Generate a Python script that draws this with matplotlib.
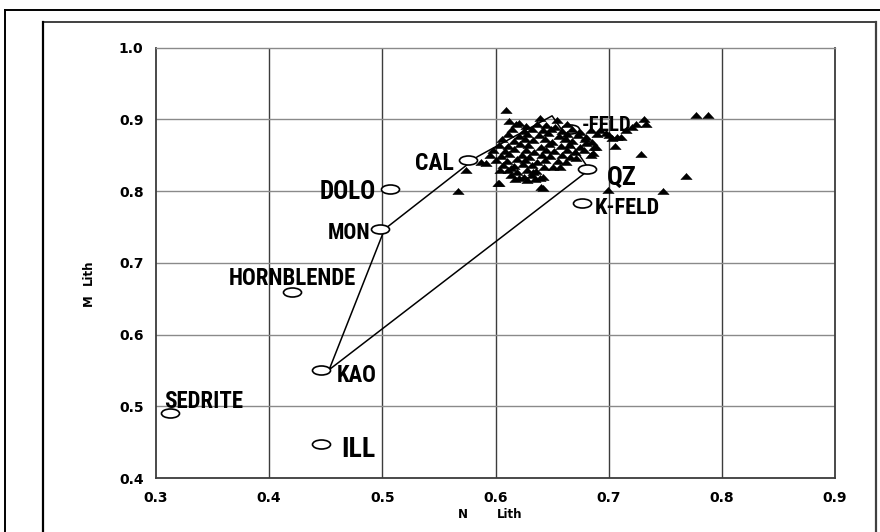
import matplotlib
matplotlib.use("Agg")
import matplotlib.pyplot as plt
from matplotlib import font_manager
from matplotlib.font_manager import FontProperties
from matplotlib.path import Path
from matplotlib.transforms import Affine2D
from matplotlib.lines import Line2D

# --- sample points (triangles) ---
tri_n = [0.609, 0.612, 0.621, 0.639, 0.654, 0.731, 0.733, 0.777, 0.788, 0.768,
         0.729, 0.748, 0.700, 0.706, 0.699, 0.687, 0.684, 0.651, 0.642, 0.640,
         0.721, 0.707, 0.711, 0.567, 0.574, 0.603, 0.642, 0.587, 0.592, 0.604,
         0.602, 0.614, 0.621, 0.639, 0.633, 0.657, 0.671, 0.686, 0.689, 0.680,
         0.703, 0.698, 0.692, 0.715, 0.724,
         0.618, 0.627, 0.637, 0.645, 0.653, 0.663,
         0.615, 0.625, 0.632, 0.642, 0.649, 0.659, 0.668, 0.675, 0.684,
         0.611, 0.621, 0.628, 0.638, 0.646, 0.656, 0.663, 0.673, 0.680, 0.690,
         0.606, 0.616, 0.626, 0.633, 0.644, 0.650, 0.661, 0.668, 0.679, 0.685,
         0.603, 0.611, 0.622, 0.629, 0.640, 0.647, 0.658, 0.665, 0.675,
         0.598, 0.608, 0.616, 0.627, 0.634, 0.645, 0.652, 0.663, 0.670, 0.678,
         0.595, 0.605, 0.612, 0.623, 0.630, 0.641, 0.648, 0.659, 0.666,
         0.600, 0.610, 0.619, 0.626, 0.637, 0.644, 0.655, 0.662,
         0.607, 0.616, 0.624, 0.632, 0.643,
         0.611, 0.619, 0.628, 0.636,
         0.614, 0.625, 0.632,
         0.617, 0.628, 0.635]
tri_m = [0.913, 0.898, 0.895, 0.902, 0.899, 0.900, 0.894, 0.906, 0.906, 0.821,
         0.852, 0.800, 0.878, 0.863, 0.801, 0.861, 0.850, 0.834, 0.820, 0.806,
         0.890, 0.875, 0.875, 0.800, 0.829, 0.811, 0.804, 0.841, 0.839, 0.829,
         0.812, 0.832, 0.818, 0.818, 0.827, 0.834, 0.846, 0.853, 0.862, 0.867,
         0.874, 0.881, 0.885, 0.885, 0.894,
         0.893, 0.891, 0.894, 0.892, 0.890, 0.893,
         0.886, 0.884, 0.887, 0.885, 0.887, 0.884, 0.886, 0.883, 0.885,
         0.879, 0.877, 0.880, 0.878, 0.881, 0.877, 0.879, 0.878, 0.876, 0.879,
         0.872, 0.870, 0.873, 0.871, 0.873, 0.869, 0.872, 0.870, 0.872, 0.869,
         0.865, 0.863, 0.866, 0.864, 0.862, 0.866, 0.863, 0.865, 0.862,
         0.858, 0.856, 0.859, 0.857, 0.855, 0.858, 0.856, 0.857, 0.855, 0.858,
         0.851, 0.849, 0.852, 0.850, 0.848, 0.851, 0.849, 0.850, 0.848,
         0.844, 0.842, 0.845, 0.843, 0.841, 0.844, 0.842, 0.840,
         0.837, 0.835, 0.838, 0.836, 0.834,
         0.829, 0.826, 0.830, 0.828,
         0.822, 0.820, 0.823,
         0.817, 0.815, 0.817]

# --- mineral end-members (open ellipses) ---
min_names = ["SEDRITE", "ILL", "HORNBLENDE", "KAO", "MON", "DOLO", "CAL", "QZ", "K-FELD", "-FELD"]
min_n = [0.312, 0.446, 0.420, 0.446, 0.498, 0.507, 0.576, 0.681, 0.676, 0.666]
min_m = [0.490, 0.447, 0.660, 0.550, 0.747, 0.803, 0.844, 0.831, 0.784, 0.887]

# label anchor points
lab_n = [0.307, 0.464, 0.364, 0.4595, 0.489, 0.494, 0.563, 0.698, 0.688, 0.676]
lab_m = [0.4975, 0.429, 0.669, 0.534, 0.733, 0.789, 0.829, 0.8085, 0.768, 0.884]
lab_ha = ["left", "left", "left", "left", "right", "right", "right", "left", "left", "left"]
lab_size = [16.5, 20, 16.5, 16.5, 15.5, 18, 17, 19, 16, 15]

# --- mixing polygon ---
poly_n = [0.453, 0.502, 0.584, 0.650, 0.683, 0.453]
poly_m = [0.551, 0.747, 0.848, 0.905, 0.830, 0.551]

x_ticks = [0.3, 0.4, 0.5, 0.6, 0.7, 0.8, 0.9]
y_ticks = [0.4, 0.5, 0.6, 0.7, 0.8, 0.9, 1.0]


def _is_bold(entry):
    w = entry.weight
    if isinstance(w, str):
        return "bold" in w.lower() or w.lower() in ("heavy", "black")
    return w >= 600


def pick_label_font():
    """Prefer a narrow/condensed bold sans face for the point labels."""
    cands = []
    for e in font_manager.fontManager.ttflist:
        nm = e.name.lower()
        fn = e.fname.lower()
        narrow = ("narrow" in nm or "condensed" in nm or "narrow" in fn
                  or "condensed" in fn or str(e.stretch) in
                  ("condensed", "semi-condensed", "extra-condensed", "ultra-condensed"))
        if narrow and _is_bold(e) and e.style == "normal" and "mono" not in nm and "serif" not in nm.replace("sans", ""):
            cands.append(e)
    order = ["liberation sans narrow", "arial narrow", "roboto condensed",
             "open sans condensed", "noto sans", "dejavu sans"]
    cands.sort(key=lambda e: next((i for i, o in enumerate(order) if o in e.name.lower()), 99))
    if cands:
        return FontProperties(fname=cands[0].fname, weight="bold"), 1.0
    return FontProperties(family="Liberation Sans", weight="bold"), 0.82


label_fp, label_scale = pick_label_font()

fig = plt.figure(figsize=(8.8, 5.32), dpi=100)
ax = fig.add_axes([156 / 880, 1 - 478 / 532, (835 - 156) / 880, (478 - 47.7) / 532])

ax.set_xlim(0.3, 0.9)
ax.set_ylim(0.4, 1.0)
ax.set_xticks(x_ticks)
ax.set_yticks(y_ticks)
ax.set_xticklabels([f"{v:.1f}" for v in x_ticks])
ax.set_yticklabels([f"{v:.1f}" for v in y_ticks])
ax.tick_params(length=0, pad=9, labelsize=10)
for lab in ax.get_xticklabels() + ax.get_yticklabels():
    lab.set_fontweight("bold")
    lab.set_family("DejaVu Sans")

# grid
for v in x_ticks[1:-1]:
    ax.axvline(v, color="#3c3c3c", lw=1.0, zorder=1)
for v in y_ticks[1:-1]:
    ax.axhline(v, color="#8a8a8a", lw=1.0, zorder=1)
for side in ["left", "bottom", "right"]:
    ax.spines[side].set_color("#3c3c3c")
    ax.spines[side].set_linewidth(1.3)
ax.spines["top"].set_color("#8a8a8a")
ax.spines["top"].set_linewidth(1.0)

# polygon
ax.plot(poly_n, poly_m, color="black", lw=1.1, zorder=2)

# ellipse marker
ell = Path.unit_circle().transformed(Affine2D().scale(1.0, 0.5))
ax.plot(min_n, min_m, linestyle="none", marker=ell, markersize=13,
        markerfacecolor="white", markeredgecolor="black", markeredgewidth=1.2, zorder=3)

# triangle marker (flattened)
tri = [(-1.0, -0.55), (1.0, -0.55), (0.0, 0.55), (-1.0, -0.55)]
ax.plot(tri_n, tri_m, linestyle="none", marker=tri, markersize=8.2,
        markerfacecolor="black", markeredgecolor="black", markeredgewidth=0.3, zorder=4)

for name, x, y, ha, s in zip(min_names, lab_n, lab_m, lab_ha, lab_size):
    fp = label_fp.copy()
    fp.set_size(s * label_scale)
    ax.text(x, y, name, ha=ha, va="baseline", fontproperties=fp, zorder=5)

fig.text(458 / 880, 1 - 515 / 532, "N", fontsize=8.5, fontweight="bold",
         ha="left", va="center", family="DejaVu Sans")
fig.text(497 / 880, 1 - 515 / 532, "Lith", fontsize=8.5, fontweight="bold",
         ha="left", va="center", family="DejaVu Sans")
fig.text(88 / 880, 1 - 300 / 532, "M", fontsize=8.5, fontweight="bold",
         ha="center", va="center", rotation=90, family="DejaVu Sans")
fig.text(88 / 880, 1 - 272 / 532, "Lith", fontsize=8.5, fontweight="bold",
         ha="center", va="center", rotation=90, family="DejaVu Sans")


# chart frames
def fline(x0, y0, x1, y1, color, lw):
    fig.add_artist(Line2D([x0 / 880, x1 / 880], [1 - y0 / 532, 1 - y1 / 532],
                          color=color, lw=lw, transform=fig.transFigure))


fline(5, 10, 880, 10, "black", 1.4)
fline(5, 10, 5, 532, "black", 1.4)
fline(43, 22, 876, 22, "#404040", 1.4)
fline(43, 22, 43, 532, "black", 1.6)
fline(876, 22, 876, 532, "#404040", 1.6)

fig.savefig("out.png", dpi=100)
